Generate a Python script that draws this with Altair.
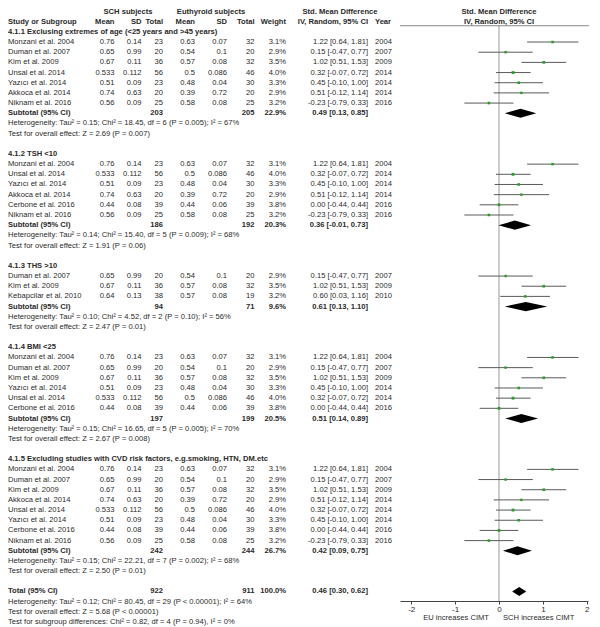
import altair as alt
import pandas as pd

# ---------------- data ----------------
study_names = ["Monzani et al. 2004", "Duman et al. 2007", "Kim et al. 2009",
               "Kebapcilar et al. 2010", "Unsal et al. 2014", "Yazıcı et al. 2014",
               "Akkoca et al. 2014", "Cerbone et al. 2016", "Niknam et al. 2016"]
sch_mean = [0.76, 0.65, 0.67, 0.64, 0.533, 0.51, 0.74, 0.44, 0.56]
sch_sd = [0.14, 0.99, 0.11, 0.13, 0.112, 0.09, 0.63, 0.08, 0.09]
sch_n = [23, 20, 36, 38, 56, 23, 20, 39, 25]
eu_mean = [0.63, 0.54, 0.57, 0.57, 0.5, 0.48, 0.39, 0.44, 0.58]
eu_sd = [0.07, 0.1, 0.08, 0.08, 0.086, 0.04, 0.72, 0.06, 0.08]
eu_n = [32, 20, 32, 19, 46, 30, 20, 39, 25]
weights = [3.1, 2.9, 3.5, 3.2, 4.0, 3.3, 2.9, 3.8, 3.2]
smd = [1.22, 0.15, 1.02, 0.60, 0.32, 0.45, 0.51, 0.00, -0.23]
ci_low = [0.64, -0.47, 0.51, 0.03, -0.07, -0.10, -0.12, -0.44, -0.79]
ci_high = [1.81, 0.77, 1.53, 1.16, 0.72, 1.00, 1.14, 0.44, 0.33]
years = [2004, 2007, 2009, 2010, 2014, 2014, 2014, 2016, 2016]

subgroup_titles = ["4.1.1 Exclusing extremes of age (<25 years and >45 years)",
                   "4.1.2 TSH <10", "4.1.3 THS >10", "4.1.4 BMI <25",
                   "4.1.5 Excluding studies with CVD risk factors, e.g.smoking, HTN, DM.etc"]
subgroup_members = [[0, 1, 2, 4, 5, 6, 8], [0, 4, 5, 6, 7, 8], [1, 2, 3],
                    [0, 1, 2, 5, 4, 7], [0, 1, 2, 6, 4, 5, 7, 8]]
sub_sch_n = [203, 186, 94, 197, 242]
sub_eu_n = [205, 192, 71, 199, 244]
sub_weight = [22.9, 20.3, 9.6, 20.5, 26.7]
sub_smd = [0.49, 0.36, 0.61, 0.51, 0.42]
sub_low = [0.13, -0.01, 0.13, 0.14, 0.09]
sub_high = [0.85, 0.73, 1.10, 0.89, 0.75]
sub_tau2 = [0.15, 0.14, 0.10, 0.15, 0.15]
sub_chi2 = [18.45, 15.40, 4.52, 16.65, 22.21]
sub_df = [6, 5, 2, 5, 7]
sub_het_p = ["= 0.005", "= 0.009", "= 0.10", "= 0.005", "= 0.002"]
sub_i2 = [67, 68, 56, 70, 68]
sub_z = [2.69, 1.91, 2.47, 2.67, 2.50]
sub_z_p = ["= 0.007", "= 0.06", "= 0.01", "= 0.008", "= 0.01"]

total_sch_n, total_eu_n, total_weight = 922, 911, 100.0
total_smd, total_low, total_high = 0.46, 0.30, 0.62
total_tau2, total_chi2, total_df, total_het_p, total_i2 = 0.12, 80.45, 29, "< 0.00001", 64
total_z, total_z_p = 5.68, "< 0.00001"
subdiff_chi2, subdiff_df, subdiff_p, subdiff_i2 = 0.82, 4, "= 0.94", 0

axis_ticks = [-2, -1, 0, 1, 2]
left_caption = "EU increases CIMT"
right_caption = "SCH increases CIMT"

# ---------------- layout ----------------
FONT = "Liberation Sans"
FS = 7.6
TXT = "#2a2a2a"
W, H = 584, 593

cols = {
    "study": (0, "left"),
    "sch_mean": (106.5, "right"),
    "sch_sd": (133.5, "right"),
    "sch_n": (155, "right"),
    "eu_mean": (187, "right"),
    "eu_sd": (219, "right"),
    "eu_n": (246.5, "right"),
    "weight": (278, "right"),
    "ci": (360, "right"),
    "year": (367, "left"),
    "sch_head": (120, "center"),
    "eu_head": (203, "center"),
    "smd_head": (332, "center"),
    "forest_head": (491, "center"),
}

records = []


def add(line, col, text, bold=False):
    records.append({"line": line, "col": col, "text": str(text), "bold": bold})


def ci_text(e, lo, hi):
    return f"{e:.2f} [{lo:.2f}, {hi:.2f}]"


add(-2, "sch_head", "SCH subjects", True)
add(-2, "eu_head", "Euthyroid subjects", True)
add(-2, "smd_head", "Std. Mean Difference", True)
add(-2, "forest_head", "Std. Mean Difference", True)
for c, t in [("study", "Study or Subgroup"), ("sch_mean", "Mean"), ("sch_sd", "SD"),
             ("sch_n", "Total"), ("eu_mean", "Mean"), ("eu_sd", "SD"), ("eu_n", "Total"),
             ("weight", "Weight"), ("ci", "IV, Random, 95% CI"), ("year", "Year"),
             ("forest_head", "IV, Random, 95% CI")]:
    add(-1, c, t, True)

study_rows = []
diamonds = []
line = 0
for g, title in enumerate(subgroup_titles):
    add(line, "study", title, True)
    for k, i in enumerate(subgroup_members[g]):
        ln = line + 1 + k
        add(ln, "study", study_names[i])
        add(ln, "sch_mean", sch_mean[i])
        add(ln, "sch_sd", sch_sd[i])
        add(ln, "sch_n", sch_n[i])
        add(ln, "eu_mean", eu_mean[i])
        add(ln, "eu_sd", eu_sd[i])
        add(ln, "eu_n", eu_n[i])
        add(ln, "weight", f"{weights[i]:.1f}%")
        add(ln, "ci", ci_text(smd[i], ci_low[i], ci_high[i]))
        add(ln, "year", years[i])
        study_rows.append({"line": ln, "smd": smd[i], "lo": ci_low[i], "hi": ci_high[i], "w": weights[i]})
    n = len(subgroup_members[g])
    sl = line + n + 1
    add(sl, "study", "Subtotal (95% CI)", True)
    add(sl, "sch_n", sub_sch_n[g], True)
    add(sl, "eu_n", sub_eu_n[g], True)
    add(sl, "weight", f"{sub_weight[g]:.1f}%", True)
    add(sl, "ci", ci_text(sub_smd[g], sub_low[g], sub_high[g]), True)
    diamonds.append((g, sl, sub_smd[g], sub_low[g], sub_high[g]))
    add(sl + 1, "study", f"Heterogeneity: Tau² = {sub_tau2[g]:.2f}; Chi² = {sub_chi2[g]:.2f}, "
                         f"df = {sub_df[g]} (P {sub_het_p[g]}); I² = {sub_i2[g]}%")
    add(sl + 2, "study", f"Test for overall effect: Z = {sub_z[g]:.2f} (P {sub_z_p[g]})")
    line = sl + 4

add(line, "study", "Total (95% CI)", True)
add(line, "sch_n", total_sch_n, True)
add(line, "eu_n", total_eu_n, True)
add(line, "weight", f"{total_weight:.1f}%", True)
add(line, "ci", ci_text(total_smd, total_low, total_high), True)
diamonds.append((len(subgroup_titles), line, total_smd, total_low, total_high))
add(line + 1, "study", f"Heterogeneity: Tau² = {total_tau2:.2f}; Chi² = {total_chi2:.2f}, "
                       f"df = {total_df} (P {total_het_p}); I² = {total_i2}%")
add(line + 2, "study", f"Test for overall effect: Z = {total_z:.2f} (P {total_z_p})")
add(line + 3, "study", f"Test for subgroup differences: Chi² = {subdiff_chi2:.2f}, "
                       f"df = {subdiff_df} (P {subdiff_p}), I² = {subdiff_i2}%")
last_line = line + 3

text_df = pd.DataFrame(records)
ci_df = pd.DataFrame(study_rows)
dia_rows = []
for g, ln, e, lo, hi in diamonds:
    dia_rows += [{"g": g, "x": lo, "y": ln, "y2": ln},
                 {"g": g, "x": e, "y": ln - 0.45, "y2": ln + 0.45},
                 {"g": g, "x": hi, "y": ln, "y2": ln}]
dia_df = pd.DataFrame(dia_rows)

# scales
SP = 10.175
y0 = 3.5 + 2 * SP
yscale = alt.Scale(domain=[0, last_line], range=[y0, y0 + SP * last_line], nice=False, zero=False)
xscale = alt.Scale(domain=[-2.255, 2.027], range=[392, 580], nice=False, zero=False)
xaxis = alt.Axis(values=axis_ticks, title=None, grid=False, labelExpr="'' + datum.value",
                 domainColor="#444", tickColor="#444", labelColor=TXT, labelFont=FONT,
                 labelFontSize=8, tickSize=3, labelPadding=1, domainWidth=1)


def X(field):
    return alt.X(f"{field}:Q", scale=xscale, axis=xaxis)


def Y(field):
    return alt.Y(f"{field}:Q", scale=yscale, axis=None)


layers = []
# zero line
layers.append(alt.Chart(pd.DataFrame({"z": [0]})).mark_rule(color="#999", strokeWidth=1).encode(
    x=X("z"), y=alt.value(y0 - 0.6 * SP), y2=alt.value(H)))
# top line over forest
layers.append(alt.Chart(pd.DataFrame({"z": [0]})).mark_rule(color="#888", strokeWidth=1).encode(
    x=alt.value(392), x2=alt.value(581), y=alt.value(y0 - 0.6 * SP)))
# CI lines
layers.append(alt.Chart(ci_df).mark_rule(color="#5a5a5a", strokeWidth=1).encode(
    x=X("lo"), x2="hi", y=Y("line")))
# squares
layers.append(alt.Chart(ci_df).mark_square(color="#22a022", opacity=1).encode(
    x=X("smd"), y=Y("line"),
    size=alt.Size("w:Q", scale=alt.Scale(domain=[0, 4], range=[0, 8], nice=False), legend=None)))
# diamonds
layers.append(alt.Chart(dia_df).mark_area(color="black", orient="vertical", opacity=1).encode(
    x=X("x"), y=Y("y"), y2="y2", detail="g:N"))

# texts
for (col, bold), sub in text_df.groupby(["col", "bold"]):
    xpos, align = cols[col]
    layers.append(alt.Chart(sub).mark_text(
        align=align, baseline="middle", font=FONT, fontSize=FS,
        fontWeight="bold" if bold else "normal", color=TXT).encode(
        x=alt.value(xpos), y=Y("line"), text="text:N"))

# captions below axis
layers.append(alt.Chart(pd.DataFrame({"t": [left_caption]})).mark_text(
    align="right", baseline="middle", font=FONT, fontSize=FS, color=TXT).encode(
    x=alt.value(481), y=alt.value(H + 17), text="t:N"))
layers.append(alt.Chart(pd.DataFrame({"t": [right_caption]})).mark_text(
    align="left", baseline="middle", font=FONT, fontSize=FS, color=TXT).encode(
    x=alt.value(495), y=alt.value(H + 17), text="t:N"))

chart = alt.layer(*layers).properties(
    width=W, height=H,
    autosize=alt.AutoSizeParams(type="none"),
    padding={"left": 0, "right": 0, "top": 0, "bottom": 26},
    background="white",
).configure_view(stroke=None)

chart.save("out.html", embed_options={"renderer": "svg", "actions": False})
